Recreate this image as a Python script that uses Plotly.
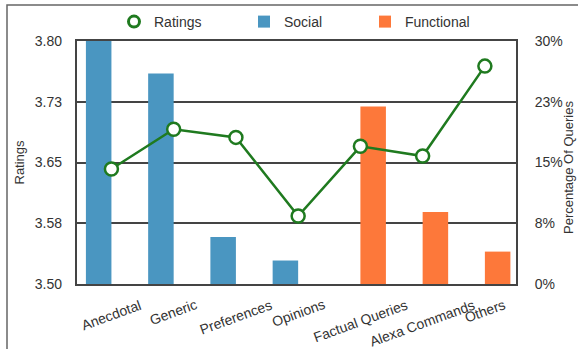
import plotly.graph_objects as go

categories = ["Anecdotal", "Generic", "Preferences", "Opinions",
              "Factual Queries", "Alexa Commands", "Others"]
ratings = [3.642, 3.691, 3.681, 3.584, 3.670, 3.658, 3.769]
social_pct = [30.0, 26.0, 5.8, 2.9, None, None, None]
functional_pct = [None, None, None, None, 21.9, 8.9, 4.0]

rating_ticks = [3.5, 3.575, 3.65, 3.725, 3.8]
rating_ticktext = ["3.50", "3.58", "3.65", "3.73", "3.80"]
pct_ticks = [0, 7.5, 15, 22.5, 30]
pct_ticktext = ["0%", "8%", "15%", "23%", "30%"]

GREEN = "#1f7a1f"
BLUE = "#4a96c1"
ORANGE = "#fd783a"
FONT = "Liberation Sans, Arial, Helvetica, sans-serif"

W, H = 578, 349
L, R, T, B = 77, 516, 41, 284

def px_x(p):
    return (p - L) / (R - L)

def px_y(p):
    return (B - p) / (B - T)

fig = go.Figure()

fig.add_trace(go.Bar(x=categories, y=social_pct, name="Social",
                     marker=dict(color=BLUE, line=dict(width=0)),
                     yaxis="y", legend="legend2"))
fig.add_trace(go.Bar(x=categories, y=functional_pct, name="Functional",
                     marker=dict(color=ORANGE, line=dict(width=0)),
                     yaxis="y", legend="legend3"))
fig.add_trace(go.Scatter(x=categories, y=ratings, mode="lines+markers",
                         name="Ratings", showlegend=False,
                         line=dict(color=GREEN, width=2.5),
                         marker=dict(symbol="circle", size=13, color="white",
                                     line=dict(color=GREEN, width=2.5)),
                         yaxis="y2", cliponaxis=False))
# legend entry for Ratings (marker only)
fig.add_trace(go.Scatter(x=[None], y=[None], mode="markers", name="Ratings",
                         marker=dict(symbol="circle", size=11, color="white",
                                     line=dict(color=GREEN, width=3)),
                         yaxis="y2", legend="legend"))

annotations = []
for c in categories:
    annotations.append(dict(x=c, xref="x", y=px_y(294), yref="paper",
                            text=c, showarrow=False, textangle=-20,
                            xanchor="center", yanchor="top",
                            font=dict(family=FONT, size=14, color="#333")))
annotations.append(dict(x=px_x(19), xref="paper", y=0.5, yref="paper",
                        text="Ratings", showarrow=False, textangle=-90,
                        xanchor="center", yanchor="middle",
                        font=dict(family=FONT, size=13, color="#333")))
annotations.append(dict(x=px_x(568), xref="paper", y=px_y(168), yref="paper",
                        text="Percentage Of Queries", showarrow=False,
                        textangle=-90, xanchor="center", yanchor="middle",
                        font=dict(family=FONT, size=13, color="#333")))

legend_common = dict(orientation="h", yanchor="middle", xanchor="left",
                     bgcolor="rgba(0,0,0,0)",
                     font=dict(family=FONT, size=14, color="#333"))

fig.update_layout(
    width=W, height=H,
    margin=dict(l=L, r=W - R, t=T, b=H - B, autoexpand=False),
    paper_bgcolor="white", plot_bgcolor="white",
    barmode="group", bargap=0.18, bargroupgap=0,
    font=dict(family=FONT, size=14, color="#333"),
    xaxis=dict(showticklabels=False, ticks="", showgrid=False,
               showline=True, linecolor="#444", linewidth=2, mirror=True,
               zeroline=False),
    yaxis=dict(range=[0, 30], side="right", tickvals=pct_ticks,
               ticktext=pct_ticktext, showgrid=True, gridcolor="#444",
               gridwidth=1.5, showline=True, linecolor="#444", linewidth=2,
               mirror=True, zeroline=False, ticks="",
               ticklabelstandoff=14,
               tickfont=dict(family=FONT, size=14, color="#333")),
    yaxis2=dict(range=[3.5, 3.8], side="left", overlaying="y",
                tickvals=rating_ticks, ticktext=rating_ticktext,
                showgrid=False, zeroline=False, ticks="", showline=False,
                ticklabelstandoff=14,
                tickfont=dict(family=FONT, size=14, color="#333")),
    legend=dict(x=px_x(114), y=px_y(22), **legend_common),
    legend2=dict(x=px_x(244), y=px_y(22), **legend_common),
    legend3=dict(x=px_x(365), y=px_y(22), **legend_common),
    annotations=annotations,
    shapes=[dict(type="rect", xref="paper", yref="paper",
                 x0=px_x(7), x1=px_x(600), y0=px_y(370), y1=px_y(5),
                 line=dict(color="#666", width=1.5), fillcolor="rgba(0,0,0,0)",
                 layer="below")],
)

fig.write_html("out.html")
